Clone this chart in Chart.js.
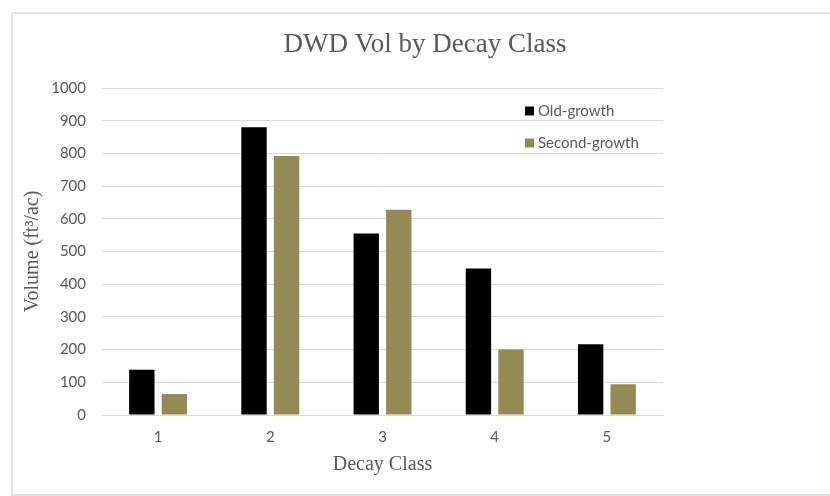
<!DOCTYPE html>
<html>
<head>
<meta charset="utf-8">
<script src="https://cdn.jsdelivr.net/npm/chart.js@4/dist/chart.umd.min.js"></script>
<style>
  html, body { margin: 0; padding: 0; background: #ffffff; overflow: hidden; }
  #wrap { position: relative; width: 830px; height: 496px; overflow: hidden; }
  #frame { position: absolute; left: 11px; top: 12px; width: 840px; height: 484px;
           border: 2px solid #e4e4e4; border-right: none; box-sizing: border-box; }
  #chart { position: absolute; left: 0; top: 0; }
</style>
</head>
<body>
<div id="wrap">
  <div id="frame"></div>
  <canvas id="chart" width="830" height="496"></canvas>
</div>
<script>
// Decay classes and deadwood volume (ft³/ac) per stand type
const decayClasses = ['1', '2', '3', '4', '5'];
const oldGrowth = [138, 880, 555, 448, 216];
const secondGrowth = [64, 792, 628, 200, 94];
const seriesNames = ['Old-growth', 'Second-growth'];
const seriesColors = ['#000000', '#948a54'];

const textGray = '#595959';
const gridGray = '#d9d9d9';

// Legend drawn inside the plot area, top right
const insideLegend = {
  id: 'insideLegend',
  afterDraw(chart) {
    const ctx = chart.ctx;
    const x0 = 525, y0 = 111, rowGap = 32, box = 9;
    ctx.save();
    ctx.font = '15px Lato';
    ctx.textBaseline = 'middle';
    ctx.textAlign = 'left';
    chart.data.datasets.forEach((ds, i) => {
      const y = y0 + i * rowGap;
      ctx.fillStyle = ds.backgroundColor;
      ctx.fillRect(x0, y - box / 2, box, box);
      ctx.fillStyle = textGray;
      ctx.fillText(ds.label, x0 + box + 4, y);
    });
    ctx.restore();
  }
};

new Chart(document.getElementById('chart'), {
  type: 'bar',
  data: {
    labels: decayClasses,
    datasets: [
      { label: seriesNames[0], data: oldGrowth, backgroundColor: seriesColors[0] },
      { label: seriesNames[1], data: secondGrowth, backgroundColor: seriesColors[1] }
    ]
  },
  options: {
    responsive: false,
    animation: false,
    devicePixelRatio: 1,
    layout: { padding: { left: 20, right: 0, top: 0, bottom: 0 } },
    datasets: { bar: { categoryPercentage: 0.58, barPercentage: 0.78 } },
    plugins: {
      legend: { display: false },
      tooltip: { enabled: false },
      title: {
        display: true,
        text: 'DWD Vol by Decay Class',
        color: textGray,
        font: { family: '"Liberation Serif", "Times New Roman", serif', size: 27, weight: 'normal' },
        padding: { top: 29, bottom: 26.6 }
      }
    },
    scales: {
      x: {
        grid: { display: false, drawTicks: false },
        border: { display: true, color: gridGray, width: 1 },
        ticks: { color: textGray, font: { family: 'Lato', size: 15 }, padding: 13 },
        title: {
          display: true,
          text: 'Decay Class',
          color: textGray,
          font: { family: '"Liberation Serif", "Times New Roman", serif', size: 20 },
          padding: { top: 0, bottom: 19 }
        },
        afterFit(scale) { scale.height = 81; }
      },
      y: {
        min: 0,
        max: 1000,
        grid: { color: gridGray, lineWidth: 1, drawTicks: false },
        border: { display: false },
        ticks: {
          stepSize: 100,
          color: textGray,
          font: { family: 'Lato', size: 15 },
          padding: 16,
          callback: (v) => String(v)
        },
        title: {
          display: true,
          text: 'Volume (ft³/ac)',
          color: textGray,
          font: { family: '"Liberation Serif", "Times New Roman", serif', size: 20 },
          padding: { top: 1, bottom: 0 }
        },
        afterFit(scale) { scale.width = 82; }
      },
      // empty margin on the right of the plot area
      side: {
        position: 'right',
        display: true,
        grid: { display: false, drawTicks: false },
        border: { display: false },
        ticks: { display: false },
        afterFit(scale) { scale.width = 167; }
      }
    }
  },
  plugins: [insideLegend]
});
</script>
</body>
</html>
